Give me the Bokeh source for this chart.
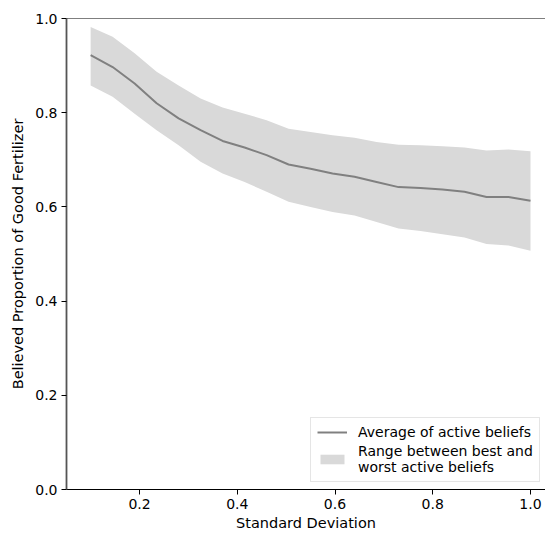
import numpy as np
from bokeh.plotting import figure
from bokeh.models import (ColumnDataSource, Range1d, FixedTicker, PrintfTickFormatter,
                          Legend, LegendItem, Span)
from bokeh.embed import file_html
from bokeh.resources import INLINE

# ---- data ----
std_dev = [0.100, 0.145, 0.190, 0.235, 0.280, 0.325, 0.370, 0.415, 0.460, 0.505,
           0.550, 0.595, 0.640, 0.685, 0.730, 0.775, 0.820, 0.865, 0.910, 0.955, 1.000]
avg_belief = [0.922, 0.897, 0.862, 0.820, 0.788, 0.763, 0.740, 0.726, 0.710, 0.690,
              0.681, 0.671, 0.664, 0.653, 0.642, 0.640, 0.637, 0.632, 0.621, 0.621, 0.613]
best_belief = [0.982, 0.961, 0.926, 0.887, 0.858, 0.830, 0.811, 0.798, 0.784, 0.766,
               0.759, 0.752, 0.747, 0.738, 0.732, 0.731, 0.729, 0.726, 0.720, 0.722, 0.718]
worst_belief = [0.858, 0.834, 0.798, 0.763, 0.731, 0.696, 0.671, 0.653, 0.632, 0.611,
                0.600, 0.589, 0.582, 0.568, 0.554, 0.549, 0.542, 0.535, 0.521, 0.518, 0.507]
x_ticks = [0.2, 0.4, 0.6, 0.8, 1.0]
y_ticks = [0.0, 0.2, 0.4, 0.6, 0.8, 1.0]

FONT = "DejaVu Sans"
FS = "14px"
FS_LABEL = "14.5px"

src = ColumnDataSource(dict(x=std_dev, mean=avg_belief, hi=best_belief, lo=worst_belief))

p = figure(width=545, height=537, output_backend="svg", toolbar_location=None,
           x_range=Range1d(0.0506, 1.0307), y_range=Range1d(0.0, 1.0),
           min_border_left=66, min_border_right=0, min_border_top=18, min_border_bottom=48)
p.outline_line_color = None
p.grid.visible = False
p.background_fill_color = "white"
p.border_fill_color = "white"

band = p.varea(x="x", y1="lo", y2="hi", source=src, fill_color="#d9d9d9", fill_alpha=1.0)
line = p.line(x="x", y="mean", source=src, line_color="#808080", line_width=2)

# top spine
p.add_layout(Span(location=1.0, dimension="width", line_color="black", line_width=1.2))

for ax in (p.xaxis[0], p.yaxis[0]):
    ax.major_label_text_font = FONT
    ax.major_label_text_font_size = FS
    ax.major_label_text_color = "black"
    ax.axis_label_text_font = FONT
    ax.axis_label_text_font_size = FS_LABEL
    ax.axis_label_text_font_style = "normal"
    ax.axis_label_text_color = "black"
    ax.minor_tick_line_color = None
    ax.major_tick_in = 0
    ax.major_tick_out = 5
    ax.major_tick_line_color = "black"
    ax.major_label_standoff = 4
    ax.formatter = PrintfTickFormatter(format="%.1f")

p.xaxis[0].ticker = FixedTicker(ticks=x_ticks)
p.yaxis[0].ticker = FixedTicker(ticks=y_ticks)
p.xaxis[0].axis_label = "Standard Deviation"
p.yaxis[0].axis_label = "Believed Proportion of Good Fertilizer"
p.xaxis[0].axis_line_color = "black"
p.xaxis[0].axis_line_width = 1.2
p.yaxis[0].axis_line_color = "#555555"
p.yaxis[0].axis_line_width = 1.8
p.xaxis[0].axis_label_standoff = 3
p.yaxis[0].axis_label_standoff = 6

legend = Legend(items=[
    LegendItem(label="Average of active beliefs", renderers=[line]),
    LegendItem(label="Range between best and\nworst active beliefs", renderers=[band]),
], location=(244, 7))
legend.label_text_font = FONT
legend.label_text_font_size = FS
legend.label_text_color = "black"
legend.label_standoff = 11
legend.glyph_width = 30
legend.glyph_height = 12
legend.padding = 6
legend.spacing = 3
legend.margin = 0
legend.border_line_color = "#cccccc"
legend.border_line_width = 1
legend.background_fill_alpha = 0.8
legend.label_height = 14
p.add_layout(legend)

open("out.html", "w").write(file_html(p, INLINE))
